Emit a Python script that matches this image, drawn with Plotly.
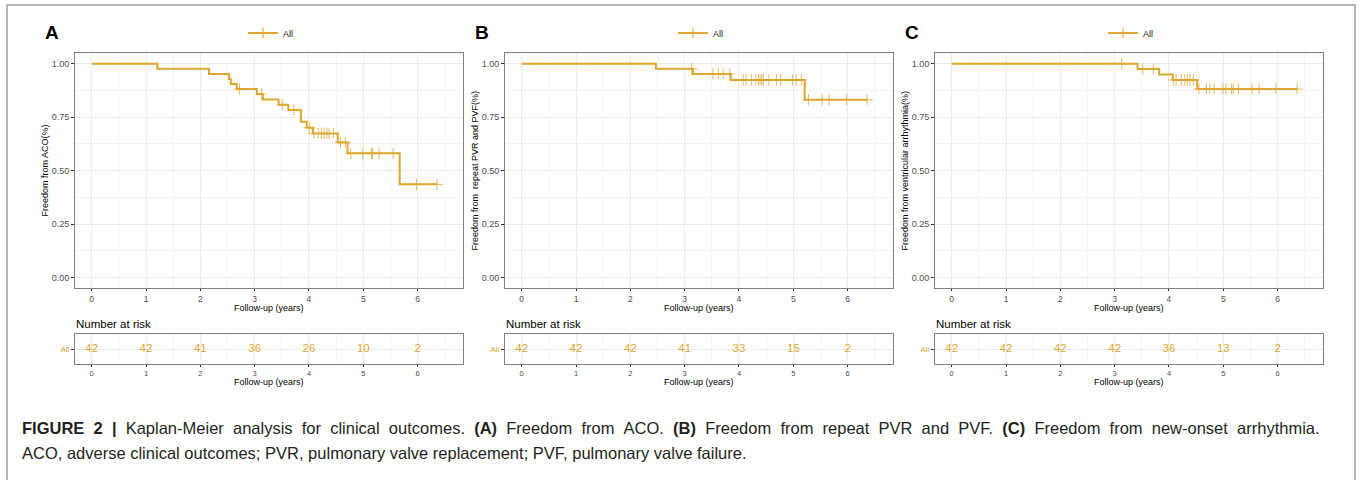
import plotly.graph_objects as go

# ---------------- data ----------------
years = [0, 1, 2, 3, 4, 5, 6]

A_event_times = [1.21, 2.16, 2.53, 2.56, 2.67, 3.04, 3.15, 3.44, 3.62, 3.85, 3.96, 4.07, 4.53, 4.71, 5.67]
A_surv = [0.976, 0.952, 0.928, 0.905, 0.882, 0.858, 0.833, 0.808, 0.784, 0.729, 0.701, 0.674, 0.632, 0.581, 0.436]
A_censor = [2.72, 3.13, 3.51, 3.72, 4.01, 4.09, 4.17, 4.23, 4.28, 4.33, 4.37, 4.45, 4.58, 4.67,
            4.77, 4.99, 5.15, 5.17, 5.29, 5.55, 5.98, 6.36]
A_risk = [42, 42, 41, 36, 26, 10, 2]

B_event_times = [2.47, 3.15, 3.85, 5.21]
B_surv = [0.976, 0.952, 0.924, 0.832]
B_censor = [3.13, 3.52, 3.62, 3.71, 3.83, 4.08, 4.13, 4.23, 4.31, 4.36, 4.39, 4.42, 4.45, 4.55,
            4.69, 4.77, 4.99, 5.05, 5.15, 5.28, 5.53, 5.66, 5.98, 6.36]
B_risk = [42, 42, 42, 41, 33, 15, 2]

C_event_times = [3.42, 3.82, 4.07, 4.52]
C_surv = [0.975, 0.950, 0.924, 0.882]
C_censor = [3.13, 3.52, 3.71, 4.08, 4.13, 4.23, 4.29, 4.34, 4.39, 4.45, 4.55, 4.69, 4.75, 4.83,
            4.99, 5.05, 5.15, 5.18, 5.28, 5.53, 5.66, 5.97, 6.36]
C_risk = [42, 42, 42, 42, 36, 13, 2]

panel_letters = ["A", "B", "C"]
y_titles = ["Freedom from ACO(%)", "Freedom from  repeat PVR and PVF(%)",
            "Freedom from ventricular arrhythmia(%)"]
x_title = "Follow-up (years)"
group_label = "All"

caption_line1_words = ["<b>FIGURE</b>", "<b>2</b>", "<b>|</b>", "Kaplan-Meier", "analysis", "for",
                       "clinical", "outcomes.", "<b>(A)</b>", "Freedom", "from", "ACO.", "<b>(B)</b>",
                       "Freedom", "from", "repeat", "PVR", "and", "PVF.", "<b>(C)</b>", "Freedom",
                       "from", "new-onset", "arrhythmia."]
caption_2 = "ACO, adverse clinical outcomes; PVR, pulmonary valve replacement; PVF, pulmonary valve failure."

# ---------------- style ----------------
W, H = 1360, 480
GOLD = "#DFA62E"
FONT = "Liberation Sans, Arial, sans-serif"
GRID = "#EBEBEB"
GRID_MINOR = "#F4F4F4"
BORDER = "#808080"


def X(px):
    return px / W


def Y(py):
    return 1 - py / H


def surv_at(t, times, surv):
    s = 1.0
    for ti, si in zip(times, surv):
        if ti <= t:
            s = si
    return s


panels = [
    (A_event_times, A_surv, A_censor, A_risk),
    (B_event_times, B_surv, B_censor, B_risk),
    (C_event_times, C_surv, C_censor, C_risk),
]

fig = go.Figure()
x_lefts = [75, 505, 935]
plot_w = 387.7
xr = [-0.307, 6.83]

annotations = []


def ann(**kw):
    d = dict(xref="paper", yref="paper", showarrow=False)
    d.update(kw)
    annotations.append(d)


for i, (et, sv, cen, risk) in enumerate(panels):
    k = i + 1
    xa = "x" if k == 1 else f"x{k}"
    ya = "y" if k == 1 else f"y{k}"
    xa_r = f"x{k + 3}"
    ya_r = f"y{k + 3}"
    legend_name = "legend" if k == 1 else f"legend{k}"

    end_t = max(cen + et)
    xs = [0] + et + [end_t]
    ys = [1.0] + sv + [sv[-1]]
    fig.add_trace(go.Scatter(x=xs, y=ys, mode="lines", line=dict(color=GOLD, width=2, shape="hv"),
                             xaxis=xa, yaxis=ya, showlegend=False, hoverinfo="skip"))
    cy = [surv_at(t, et, sv) for t in cen]
    fig.add_trace(go.Scatter(x=cen, y=cy, mode="markers",
                             marker=dict(symbol="cross-thin-open", size=8,
                                         line=dict(color=GOLD, width=1.1), color=GOLD),
                             opacity=0.7, xaxis=xa, yaxis=ya, showlegend=False, hoverinfo="skip"))
    # legend entry
    fig.add_trace(go.Scatter(x=[None], y=[None], mode="lines+markers", name=group_label,
                             line=dict(color=GOLD, width=2),
                             marker=dict(symbol="line-ns-open", size=8, line=dict(color=GOLD, width=1.1)),
                             xaxis=xa, yaxis=ya, showlegend=True, legend=legend_name))
    # risk table
    fig.add_trace(go.Scatter(x=years, y=[1] * len(years), mode="text", text=[str(v) for v in risk],
                             textfont=dict(color=GOLD, size=11.5, family=FONT),
                             xaxis=xa_r, yaxis=ya_r, showlegend=False, hoverinfo="skip"))

    x0 = x_lefts[i]
    dom = [X(x0), X(x0 + plot_w)]
    common_x = dict(range=xr, tickvals=years, showgrid=True, gridcolor=GRID, gridwidth=1,
                    minor=dict(dtick=0.5, tick0=0, showgrid=True, gridcolor=GRID_MINOR, gridwidth=1),
                    zeroline=False, showline=True, linecolor=BORDER, linewidth=1, mirror=True,
                    ticks="outside", ticklen=2, tickcolor="#333333", tickwidth=1)
    fig.layout[("xaxis" if k == 1 else f"xaxis{k}")] = dict(
        domain=dom, anchor=ya, tickfont=dict(size=8.5, color="#4D4D4D", family=FONT), **common_x)
    fig.layout[("yaxis" if k == 1 else f"yaxis{k}")] = dict(
        domain=[Y(288.3), Y(53)], anchor=xa, range=[-0.05, 1.05],
        tickvals=[0, 0.25, 0.5, 0.75, 1.0], tickformat=".2f",
        tickfont=dict(size=9, color="#4D4D4D", family=FONT),
        showgrid=True, gridcolor=GRID, gridwidth=1,
        minor=dict(dtick=0.125, tick0=0, showgrid=True, gridcolor=GRID_MINOR, gridwidth=1),
        zeroline=False, showline=True, linecolor=BORDER, linewidth=1, mirror=True,
        ticks="outside", ticklen=3, tickcolor="#333333", tickwidth=1)
    fig.layout[f"xaxis{k + 3}"] = dict(
        domain=dom, anchor=ya_r, tickfont=dict(size=7.5, color="#4D4D4D", family=FONT),
        **common_x)
    fig.layout[f"yaxis{k + 3}"] = dict(
        domain=[Y(364.3), Y(334.3)], anchor=xa_r, range=[0.45, 1.55],
        tickvals=[1], ticktext=[group_label], tickfont=dict(size=8, color=GOLD, family=FONT),
        showgrid=True, gridcolor=GRID, gridwidth=1, zeroline=False,
        showline=True, linecolor=BORDER, linewidth=1, mirror=True,
        ticks="outside", ticklen=3, tickcolor="#333333", tickwidth=1)

    fig.layout[legend_name] = dict(
        x=X(x0 + 196), y=Y(33), xanchor="center", yanchor="middle", orientation="h",
        bgcolor="rgba(0,0,0,0)", font=dict(size=9, color="#222222", family=FONT),
        itemwidth=30)

    off = x0 - 75
    cx = x0 + plot_w / 2
    ann(text=f"<b>{panel_letters[i]}</b>", x=X(43 + off), y=Y(33), xanchor="left", yanchor="middle",
        font=dict(size=19, color="#000000", family=FONT))
    ann(text=y_titles[i], x=X(45 + off), y=Y(170.6), textangle=-90, xanchor="center",
        yanchor="middle", font=dict(size=9, color="#000000", family=FONT))
    ann(text=x_title, x=X(cx), y=Y(308), xanchor="center", yanchor="middle",
        font=dict(size=9, color="#000000", family=FONT))
    ann(text="Number at risk", x=X(74 + off), y=Y(324), xanchor="left", yanchor="middle",
        font=dict(size=11.5, color="#000000", family=FONT))
    ann(text=x_title, x=X(cx), y=Y(382), xanchor="center", yanchor="middle",
        font=dict(size=9, color="#000000", family=FONT))

# first caption line is justified in the reference: widen the word gaps a little
caption_1 = " \u00a0".join(caption_line1_words)
ann(text=caption_1, x=X(20), y=Y(428), xanchor="left", yanchor="middle",
    font=dict(size=16.5, color="#231F20", family=FONT))
ann(text=caption_2, x=X(20), y=Y(453), xanchor="left", yanchor="middle",
    font=dict(size=16.5, color="#231F20", family=FONT))

fig.update_layout(
    width=W, height=H, margin=dict(l=0, r=0, t=0, b=0),
    paper_bgcolor="white", plot_bgcolor="white",
    font=dict(family=FONT),
    annotations=annotations,
    shapes=[dict(type="rect", xref="paper", yref="paper", x0=X(7), x1=X(1355), y0=Y(495), y1=Y(5),
                 line=dict(color="#A0A0A0", width=1.5), fillcolor="rgba(0,0,0,0)", layer="below")],
)

fig.write_html("out.html", config={"displayModeBar": False},
               post_script="document.body.style.margin='0';document.body.style.overflow='hidden';")
